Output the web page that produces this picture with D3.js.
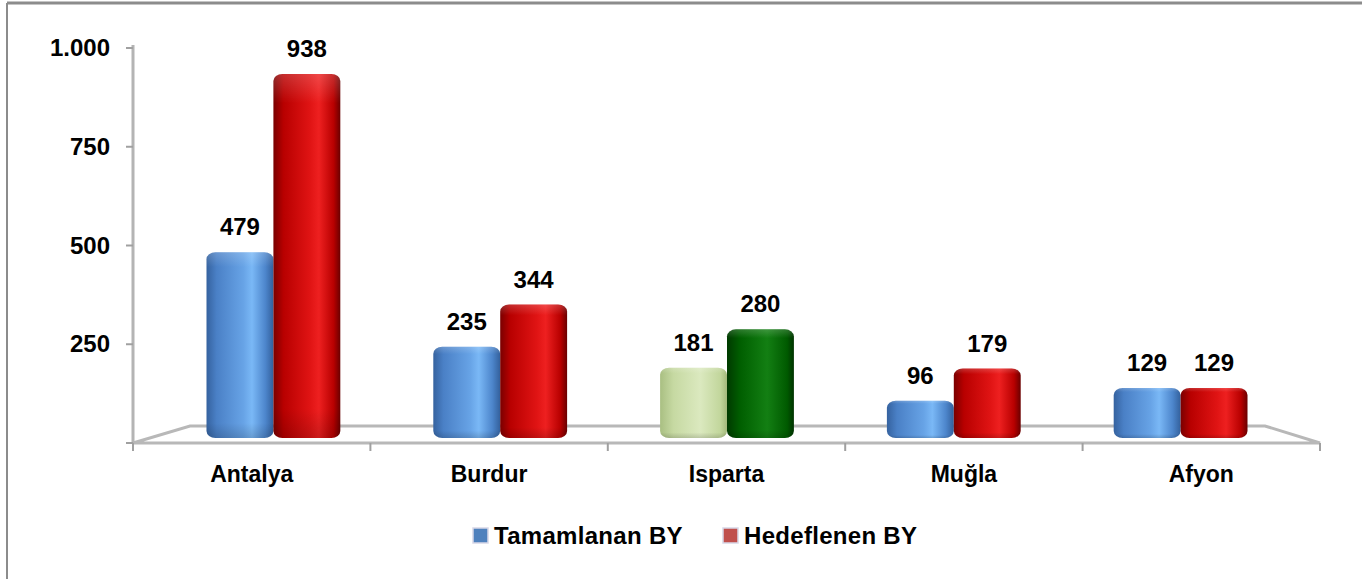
<!DOCTYPE html>
<html>
<head>
<meta charset="utf-8">
<script src="https://cdn.jsdelivr.net/npm/d3@7"></script>
<style>
  body { margin: 0; background: #fff; }
  text { font-family: "Liberation Sans", Arial, sans-serif; font-weight: bold; fill: #000; }
</style>
</head>
<body>
<svg id="chart" width="1362" height="579"></svg>
<script>
var categories = ["Antalya", "Burdur", "Isparta", "Muğla", "Afyon"];
var seriesNames = ["Tamamlanan BY", "Hedeflenen BY"];
var tamamlanan = [479, 235, 181, 96, 129];
var hedeflenen = [938, 344, 280, 179, 129];
var yTicks = [250, 500, 750, 1000];

var svg = d3.select("#chart");

// frame (top + left edges only are visible)
svg.append("line").attr("x1", 7).attr("y1", 3).attr("x2", 1362).attr("y2", 3)
  .attr("stroke", "#8c8c8c").attr("stroke-width", 3);
svg.append("line").attr("x1", 7).attr("y1", 3).attr("x2", 7).attr("y2", 579)
  .attr("stroke", "#8c8c8c").attr("stroke-width", 2);

// scales
var y = d3.scaleLinear().domain([0, 1000]).range([443, 48]);      // axis on front edge
var yBar = d3.scaleLinear().domain([0, 1000]).range([438, 50]);   // bars sit mid depth
var xFront = d3.scaleBand().domain(categories).range([133, 1320]);
var x0 = d3.scaleBand().domain(categories).range([160, 1294]).paddingInner(0.41).paddingOuter(0.205);
var x1 = d3.scaleBand().domain(seriesNames).range([0, x0.bandwidth()]);

var fmt = d3.formatLocale({ decimal: ",", thousands: ".", grouping: [3], currency: ["", ""] }).format(",");

// gradients
var defs = svg.append("defs");
var grads = {
  blue: [[0, "#35629f"], [0.15, "#4a80c6"], [0.55, "#67a3e6"], [0.68, "#7ab8f6"], [0.88, "#4d86cc"], [1, "#33609c"]],
  red: [[0, "#7a0000"], [0.15, "#b80000"], [0.55, "#e01414"], [0.68, "#ee2020"], [0.9, "#b80000"], [1, "#6a0000"]],
  lgreen: [[0, "#a9bf82"], [0.2, "#c6d9a2"], [0.6, "#dbe9bf"], [0.9, "#c2d69c"], [1, "#a3b97c"]],
  dgreen: [[0, "#003a00"], [0.2, "#005f00"], [0.6, "#137f13"], [0.9, "#005a00"], [1, "#003300"]]
};
Object.keys(grads).forEach(function(k) {
  var g = defs.append("linearGradient").attr("id", "g-" + k)
    .attr("x1", "0%").attr("x2", "100%").attr("y1", "0%").attr("y2", "0%");
  grads[k].forEach(function(s) {
    g.append("stop").attr("offset", s[0]).attr("stop-color", s[1]);
  });
});
var shade = defs.append("linearGradient").attr("id", "g-shade")
  .attr("x1", "0%").attr("x2", "0%").attr("y1", "0%").attr("y2", "100%");
shade.append("stop").attr("offset", 0).attr("stop-color", "#fff").attr("stop-opacity", 0.18);
shade.append("stop").attr("offset", 0.08).attr("stop-color", "#fff").attr("stop-opacity", 0);
shade.append("stop").attr("offset", 0.92).attr("stop-color", "#000").attr("stop-opacity", 0);
shade.append("stop").attr("offset", 1).attr("stop-color", "#000").attr("stop-opacity", 0.15);

// floor
var floorPts = [[133, y(0)], [1320, y(0)], [1265, y(0) - 17], [190, y(0) - 17]];
svg.append("polygon")
  .attr("points", floorPts.map(function(p) { return p.join(","); }).join(" "))
  .attr("fill", "#fff").attr("stroke", "#b8b8b8").attr("stroke-width", 3);

// y axis
svg.append("line").attr("x1", 133).attr("x2", 133).attr("y1", y(1000) - 3).attr("y2", y(0))
  .attr("stroke", "#b4b4b4").attr("stroke-width", 3);
var yAxis = svg.append("g");
yAxis.selectAll("line.tick").data([0].concat(yTicks)).enter().append("line")
  .attr("x1", 126).attr("x2", 133)
  .attr("y1", function(d) { return y(d); }).attr("y2", function(d) { return y(d); })
  .attr("stroke", "#a0a0a0").attr("stroke-width", 2);
yAxis.selectAll("text").data(yTicks).enter().append("text")
  .attr("x", 110).attr("y", function(d) { return y(d) + 8; })
  .attr("text-anchor", "end").style("font-size", "24px")
  .text(function(d) { return fmt(d); });

// x ticks on front edge
var xTickPos = categories.map(function(c) { return xFront(c); }).concat([1320]);
svg.selectAll("line.xtick").data(xTickPos).enter().append("line")
  .attr("x1", function(d) { return d; }).attr("x2", function(d) { return d; })
  .attr("y1", y(0)).attr("y2", y(0) + 8)
  .attr("stroke", "#a0a0a0").attr("stroke-width", 2);

// bars
var rows = categories.map(function(c, i) {
  var isp = c === "Isparta";
  return [
    { cat: c, s: seriesNames[0], v: tamamlanan[i], fill: isp ? "lgreen" : "blue" },
    { cat: c, s: seriesNames[1], v: hedeflenen[i], fill: isp ? "dgreen" : "red" }
  ];
});
var groups = svg.selectAll("g.grp").data(rows).enter().append("g")
  .attr("transform", function(d) { return "translate(" + x0(d[0].cat) + ",0)"; });
var bars = groups.selectAll("g.bar").data(function(d) { return d; }).enter().append("g");
bars.append("rect")
  .attr("x", function(d) { return x1(d.s); })
  .attr("y", function(d) { return yBar(d.v); })
  .attr("width", x1.bandwidth())
  .attr("height", function(d) { return yBar(0) - yBar(d.v); })
  .attr("rx", 9).attr("ry", 7)
  .attr("fill", function(d) { return "url(#g-" + d.fill + ")"; });
bars.append("rect")
  .attr("x", function(d) { return x1(d.s); })
  .attr("y", function(d) { return yBar(d.v); })
  .attr("width", x1.bandwidth())
  .attr("height", function(d) { return yBar(0) - yBar(d.v); })
  .attr("rx", 9).attr("ry", 7)
  .attr("fill", "url(#g-shade)");
bars.append("text")
  .attr("x", function(d) { return x1(d.s) + x1.bandwidth() / 2; })
  .attr("y", function(d) { return yBar(d.v) - 17; })
  .attr("text-anchor", "middle").style("font-size", "24px")
  .text(function(d) { return d.v; });

// category labels
svg.selectAll("text.cat").data(categories).enter().append("text")
  .attr("x", function(d) { return xFront(d) + xFront.bandwidth() / 2; })
  .attr("y", 482)
  .attr("text-anchor", "middle").style("font-size", "23px")
  .text(function(d) { return d; });

// legend
var legendX = [473, 723];
var legendCol = ["#4f81bd", "#c0504d"];
var leg = svg.selectAll("g.leg").data(seriesNames).enter().append("g")
  .attr("transform", function(d, i) { return "translate(" + legendX[i] + ",528)"; });
leg.append("rect").attr("width", 15).attr("height", 15)
  .attr("fill", function(d, i) { return legendCol[i]; })
  .attr("stroke", "#d8d8e8").attr("stroke-width", 1.5);
leg.append("text").attr("x", 21).attr("y", 16)
  .style("font-size", "24px").style("letter-spacing", "0.3px")
  .text(function(d) { return d; });
</script>
</body>
</html>
